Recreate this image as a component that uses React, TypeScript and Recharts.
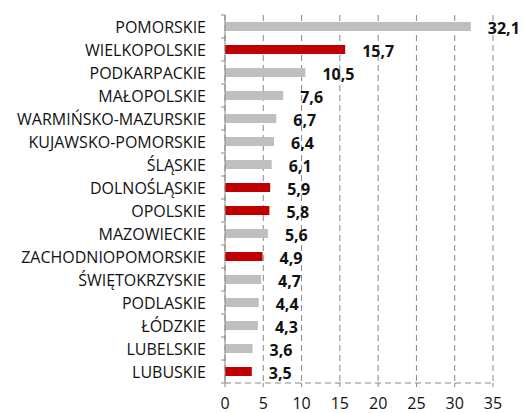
import React from "react";
import { BarChart, Bar, XAxis, YAxis, CartesianGrid, Cell, LabelList } from "recharts";

const regions = [
  "POMORSKIE",
  "WIELKOPOLSKIE",
  "PODKARPACKIE",
  "MAŁOPOLSKIE",
  "WARMIŃSKO-MAZURSKIE",
  "KUJAWSKO-POMORSKIE",
  "ŚLĄSKIE",
  "DOLNOŚLĄSKIE",
  "OPOLSKIE",
  "MAZOWIECKIE",
  "ZACHODNIOPOMORSKIE",
  "ŚWIĘTOKRZYSKIE",
  "PODLASKIE",
  "ŁÓDZKIE",
  "LUBELSKIE",
  "LUBUSKIE",
];

const values = [32.1, 15.7, 10.5, 7.6, 6.7, 6.4, 6.1, 5.9, 5.8, 5.6, 4.9, 4.7, 4.4, 4.3, 3.6, 3.5];

const highlighted = ["WIELKOPOLSKIE", "DOLNOŚLĄSKIE", "OPOLSKIE", "ZACHODNIOPOMORSKIE", "LUBUSKIE"];

const xTicks = [0, 5, 10, 15, 20, 25, 30, 35];

const data = regions.map((name, i) => ({ name, value: values[i] }));

const FONT = "'Open Sans', sans-serif";

function RegionTick(props: any) {
  const { x, y, payload, index } = props;
  const band = 23;
  return (
    <g>
      <text x={x - 19} y={y} dy={6} textAnchor="end" fontSize={16} fontFamily={FONT} fill="#111">
        {payload.value}
      </text>
      <line x1={x - 4} x2={x} y1={y - band / 2} y2={y - band / 2} stroke="#888" />
      {index === regions.length - 1 && (
        <line x1={x - 4} x2={x} y1={y + band / 2} y2={y + band / 2} stroke="#888" />
      )}
    </g>
  );
}

export default function App() {
  return (
    <div style={{ position: "absolute", left: 0, top: 0, width: 523, height: 413, background: "#fff" }}>
      <BarChart
        width={523}
        height={413}
        data={data}
        layout="vertical"
        margin={{ top: 15, right: 30, bottom: 0, left: 0 }}
        barCategoryGap={7}
      >
        <CartesianGrid horizontal={false} stroke="#888" strokeDasharray="6 4" />
        <XAxis
          type="number"
          domain={[0, 35]}
          ticks={xTicks}
          height={30}
          axisLine={{ stroke: "#888", strokeDasharray: "6 4" }}
          tickLine={{ stroke: "#888" }}
          tickSize={4}
          tickMargin={11}
          tick={{ fontSize: 16, fontFamily: FONT, fill: "#111" }}
          interval={0}
        />
        <YAxis
          type="category"
          dataKey="name"
          width={225}
          axisLine={{ stroke: "#888" }}
          tickLine={false}
          tickSize={0}
          tickMargin={0}
          tick={<RegionTick />}
          interval={0}
        />
        <Bar dataKey="value" barSize={9} isAnimationActive={false}>
          {data.map((d) => (
            <Cell key={d.name} fill={highlighted.includes(d.name) ? "#C00000" : "#BFBFBF"} />
          ))}
          <LabelList
            dataKey="value"
            position="right"
            offset={17}
            formatter={(v: any) => String(v).replace(".", ",")}
            style={{ fontSize: 16, fontWeight: 700, fontFamily: FONT, fill: "#111" }}
            dy={2}
          />
        </Bar>
      </BarChart>
    </div>
  );
}
